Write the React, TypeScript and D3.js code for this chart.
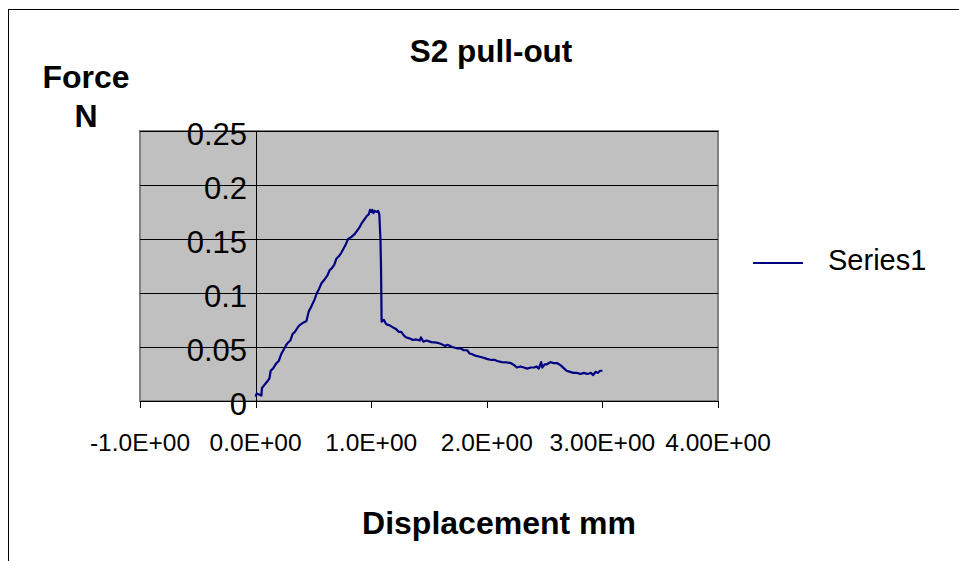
import React from "react";
import * as d3 from "d3";

const displacement = [
  0.0, 0.01, 0.03, 0.05, 0.055, 0.07, 0.1, 0.12, 0.13, 0.15, 0.18, 0.2, 0.22, 0.24, 0.26, 0.28, 0.3, 0.32, 0.34, 0.37,
  0.39, 0.42, 0.44, 0.46, 0.48, 0.51, 0.53, 0.55, 0.57, 0.6, 0.62, 0.64, 0.66, 0.68, 0.7, 0.72, 0.74, 0.76, 0.78, 0.8,
  0.83, 0.86, 0.88, 0.9, 0.92, 0.94, 0.96, 0.98, 0.99, 1.0, 1.01, 1.02, 1.03, 1.05, 1.06, 1.07, 1.08, 1.085, 1.09, 1.11,
  1.13, 1.16, 1.19, 1.21, 1.24, 1.26, 1.28, 1.3, 1.33, 1.36, 1.39, 1.42, 1.43, 1.45, 1.48, 1.52, 1.57, 1.6, 1.64, 1.66,
  1.7, 1.74, 1.77, 1.8, 1.83, 1.85, 1.87, 1.9, 1.94, 1.97, 2.0, 2.04, 2.07, 2.09, 2.13, 2.17, 2.21, 2.24, 2.26, 2.29,
  2.32, 2.35, 2.38, 2.41, 2.43, 2.45, 2.47, 2.48, 2.5, 2.52, 2.55, 2.58, 2.61, 2.64, 2.67, 2.69, 2.72, 2.75, 2.78, 2.81,
  2.84, 2.87, 2.9, 2.92, 2.94, 2.96, 2.98, 3.0,
];
const force = [
  0.004, 0.007, 0.006, 0.005, 0.012, 0.014, 0.018, 0.021, 0.028, 0.03, 0.035, 0.037, 0.043, 0.047, 0.051, 0.054, 0.056, 0.062, 0.064, 0.069,
  0.071, 0.073, 0.074, 0.083, 0.087, 0.094, 0.1, 0.104, 0.109, 0.113, 0.116, 0.121, 0.123, 0.126, 0.132, 0.134, 0.137, 0.141, 0.145, 0.15,
  0.152, 0.155, 0.158, 0.161, 0.165, 0.168, 0.171, 0.173, 0.177, 0.175, 0.177, 0.174, 0.176, 0.175, 0.176, 0.173, 0.15, 0.123, 0.0734, 0.075,
  0.071, 0.07, 0.068, 0.067, 0.064, 0.064, 0.061, 0.059, 0.058, 0.0565, 0.057, 0.056, 0.059, 0.055, 0.056, 0.0545, 0.054, 0.053, 0.051, 0.052,
  0.05, 0.0488, 0.049, 0.047, 0.047, 0.044, 0.0435, 0.042, 0.041, 0.04, 0.039, 0.038, 0.038, 0.037, 0.036, 0.0358, 0.035, 0.033, 0.031, 0.032,
  0.031, 0.03, 0.031, 0.031, 0.032, 0.03, 0.036, 0.031, 0.034, 0.034, 0.036, 0.035, 0.035, 0.033, 0.03, 0.028, 0.027, 0.026, 0.026, 0.025,
  0.026, 0.025, 0.026, 0.024, 0.027, 0.026, 0.028, 0.028,
];

const xTicks = [-1, 0, 1, 2, 3, 4];
const xTickLabels = ["-1.0E+00", "0.0E+00", "1.0E+00", "2.0E+00", "3.00E+00", "4.00E+00"];
const yTicks = [0, 0.05, 0.1, 0.15, 0.2, 0.25];
const yTickLabels = ["0", "0.05", "0.1", "0.15", "0.2", "0.25"];

const title = "S2 pull-out";
const xTitle = "Displacement mm";
const yTitle = ["Force", "N"];
const seriesName = "Series1";

const W = 959;
const H = 561;
const plot = { left: 140, right: 718, top: 131, bottom: 401 };
const FONT = "'Liberation Sans', Arial, Helvetica, sans-serif";
const LINE = "#000080";

export default function App() {
  const x = d3.scaleLinear().domain([-1, 4]).range([plot.left, plot.right]);
  const y = d3.scaleLinear().domain([0, 0.25]).range([plot.bottom, plot.top]);
  const pts: [number, number][] = displacement.map((d, i) => [d, force[i]]);
  const line = d3
    .line<[number, number]>()
    .x((d) => x(d[0]))
    .y((d) => y(d[1]));
  const x0 = x(0);

  return (
    <svg
      width={W}
      height={H}
      style={{ position: "absolute", left: 0, top: 0, display: "block", background: "#fff" }}
      fontFamily={FONT}
    >
      {/* outer frame (extends beyond view on right/bottom) */}
      <rect x={8.5} y={9.5} width={W + 20} height={H + 20} fill="#fff" stroke="#000" strokeWidth={1} />

      {/* plot area */}
      <rect
        x={plot.left}
        y={plot.top}
        width={plot.right - plot.left}
        height={plot.bottom - plot.top}
        fill="#c0c0c0"
        stroke="#808080"
        strokeWidth={2}
      />
      {/* gridlines */}
      {yTicks.slice(1).map((t) => (
        <line key={"g" + t} x1={plot.left} x2={plot.right} y1={Math.round(y(t)) + 0.5} y2={Math.round(y(t)) + 0.5} stroke="#000" strokeWidth={1} />
      ))}
      {/* x axis */}
      <line x1={plot.left} x2={plot.right} y1={plot.bottom + 0.5} y2={plot.bottom + 0.5} stroke="#000" strokeWidth={1} />
      {xTicks.map((t) => (
        <line key={"xt" + t} x1={Math.round(x(t)) + 0.5} x2={Math.round(x(t)) + 0.5} y1={plot.bottom} y2={plot.bottom + 7} stroke="#000" strokeWidth={1} />
      ))}
      {/* y axis at x = 0 */}
      <line x1={Math.round(x0) + 0.5} x2={Math.round(x0) + 0.5} y1={plot.top} y2={plot.bottom + 7} stroke="#000" strokeWidth={1} />
      {yTicks.map((t) => (
        <line key={"yt" + t} x1={Math.round(x0) - 5} x2={Math.round(x0)} y1={Math.round(y(t)) + 0.5} y2={Math.round(y(t)) + 0.5} stroke="#000" strokeWidth={1} />
      ))}

      {/* series */}
      <path d={line(pts) || ""} fill="none" stroke={LINE} strokeWidth={2.2} strokeLinejoin="round" />

      {/* y tick labels */}
      {yTicks.map((t, i) => (
        <text key={"yl" + t} x={247} y={y(t) + 3} textAnchor="end" dominantBaseline="central" fontSize={31} fill="#000">
          {yTickLabels[i]}
        </text>
      ))}
      {/* x tick labels */}
      {xTicks.map((t, i) => (
        <text key={"xl" + t} x={x(t)} y={451} textAnchor="middle" fontSize={24.5} fill="#000">
          {xTickLabels[i]}
        </text>
      ))}

      {/* titles */}
      <text x={491} y={62} textAnchor="middle" fontSize={31.5} fontWeight="bold" fill="#000">
        {title}
      </text>
      <text x={86} y={88} textAnchor="middle" fontSize={32} fontWeight="bold" fill="#000">
        {yTitle[0]}
      </text>
      <text x={86} y={127} textAnchor="middle" fontSize={32} fontWeight="bold" fill="#000">
        {yTitle[1]}
      </text>
      <text x={499} y={534} textAnchor="middle" fontSize={32} fontWeight="bold" fill="#000">
        {xTitle}
      </text>

      {/* legend */}
      <line x1={753} x2={803} y1={263} y2={263} stroke={LINE} strokeWidth={2} />
      <text x={828} y={270} fontSize={29} fill="#000">
        {seriesName}
      </text>
    </svg>
  );
}
